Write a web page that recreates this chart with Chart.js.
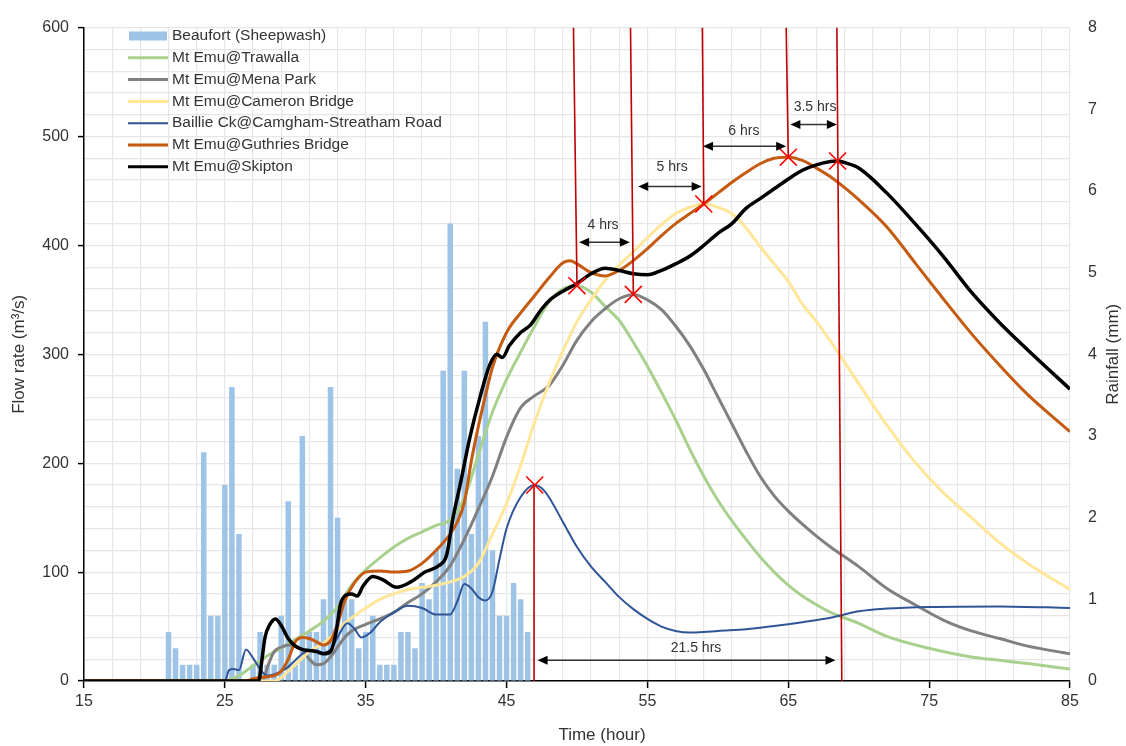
<!DOCTYPE html>
<html>
<head>
<meta charset="utf-8">
<title>Mt Emu flood hydrographs</title>
<script src="https://cdn.jsdelivr.net/npm/chart.js@4.4.1/dist/chart.umd.min.js"></script>
<style>
  html, body { margin: 0; padding: 0; background: #fff; }
  #wrap { width: 1126px; height: 746px; }
</style>
</head>
<body>
<div id="wrap"><canvas id="flowChart" width="1126" height="746"></canvas></div>
<script>
// Rainfall at Beaufort (Sheepwash), half-hourly totals (mm)
const rainHours = [21, 21.5, 22, 22.5, 23, 23.5, 24, 24.5, 25, 25.5, 26, 26.5, 27, 27.5, 28, 28.5, 29, 29.5,
  30, 30.5, 31, 31.5, 32, 32.5, 33, 33.5, 34, 34.5, 35, 35.5, 36, 36.5, 37, 37.5, 38, 38.5, 39, 39.5,
  40, 40.5, 41, 41.5, 42, 42.5, 43, 43.5, 44, 44.5, 45, 45.5, 46, 46.5];
const rainMm = [0.6, 0.4, 0.2, 0.2, 0.2, 2.8, 0.8, 0.8, 2.4, 3.6, 1.8, 0, 0.2, 0.6, 0.2, 0.2, 0.8, 2.2,
  0.2, 3.0, 0.6, 0.6, 1.0, 3.6, 2.0, 1.0, 1.0, 0.4, 0.6, 0.8, 0.2, 0.2, 0.2, 0.6, 0.6, 0.4, 1.2, 1.0,
  1.6, 3.8, 5.6, 2.6, 3.8, 1.8, 3.0, 4.4, 1.6, 0.8, 0.8, 1.2, 1.0, 0.6];

// Flow hydrographs, [hour, m3/s]
const trawalla = [[15,0],[25,0],[26,5],[27,14],[28,23],[29,30],[30,38],[31,46],[32,55],[33,68],[34,88],[35,102],
  [36,113],[37,123],[38,131],[39,137],[40,143],[41,148],[42,168],[43,208],[44,247],[45,277],[46,302],[47,326],
  [48,348],[49,360],[50,363],[51,357],[52,344],[53,331],[54,311],[55,289],[56,265],[57,240],[58,213],[59,188],
  [60,166],[61,147],[62,130],[63,114],[64,100],[65,88],[66,78],[67,70],[68,63],[70,53],[72,41],[75,30],
  [78,22],[80,19],[82,16],[85,11]];
const menaPark = [[15,0],[27.7,0],[28,12],[28.5,27],[29,31],[29.5,33],[30,32.5],[30.5,28],[31,20],[31.5,15],
  [32,16],[32.5,22],[33,31],[33.5,40],[34,46],[35,52],[36,57],[37,63],[38,72],[39,80],[40,91],[41,106],
  [42,130],[43,158],[44,188],[45,224],[46,251],[47,262],[48,271],[49,290],[50,313],[51,330],[52,342],[53,351],
  [54,355],[55,350],[56,341],[57,326],[58,308],[59,286],[60,261],[61,236],[62,211],[63,188],[64,170],[65,156],
  [66,144],[67,133],[68,123],[70,105],[72,85],[74,70],[76,56],[78,46],[80,39],[82,32],[85,25]];
const cameronBridge = [[15,0],[28.5,0],[29,3],[29.5,9],[30,15],[30.5,21],[31,27],[31.5,31],[32,35],[32.5,40],
  [33,47],[33.5,53],[34,58],[35,67],[36,75],[37,80],[38,84],[39,86],[40,88],[41,91],[42,96],[43,108],[44,135],
  [45,163],[46,198],[47,238],[48,273],[49,303],[50,330],[51,350],[52,368],[53,382],[54,394],[55,407],[56,419],
  [57,429],[58,435],[59,438],[60,435],[61,429],[62,416],[63,399],[64,383],[65,367],[66,346],[67,330],[68,312],
  [70,273],[72,235],[74,201],[76,173],[78,150],[80,127],[82,108],[85,84]];
const baillieCk = [[15,0],[25,0],[25.3,10],[25.6,11],[26,10],[26.5,29],[27,21],[27.5,11],[28,5],[28.5,6],[29,9],
  [29.5,13],[30,19],[30.5,25],[31,28],[31.5,28],[32,26],[32.5,29],[33,40],[33.7,53],[34.2,48],[34.7,40],
  [35.3,44],[36,54],[37,63],[38,69],[39,67],[40,61],[41,61],[41.5,73],[42,89],[42.5,85],[43,77],[43.5,74],
  [44,82],[44.5,112],[45,140],[46,169],[47,180],[47.5,177],[48,169],[49,146],[50,123],[51,105],[52,91],[53,77],
  [54,66],[55,57],[56,50],[57,46],[58,44.5],[59,45],[60,46],[62,47.5],[64,50.5],[66,54],[68,58],[70,64],
  [72,66.5],[75,68],[80,68.5],[85,67]];
const guthriesBridge = [[15,0],[26.5,0],[27,2],[28,4],[28.5,5],[29,9],[29.5,20],[30,36],[30.5,40],[31,39],
  [31.5,36],[32,33],[32.5,37],[33,52],[33.5,73],[34,86],[34.5,95],[35,100],[36,101],[37,100],[38,101],[39,108],
  [40,120],[41,135],[41.5,146],[42,164],[42.5,202],[43,234],[43.5,262],[44,288],[45,320],[46,338],[47,354],
  [48,370],[49,384],[49.5,386],[50,383],[51,375],[52,372],[53,377],[54,386],[55,397],[56,409],[57,420],[58,429],
  [59,438],[60,448],[61,458],[62,467],[63,475],[64,480],[65,481],[66,478],[67,471],[68,463],[69,453],[70,442],
  [72,417],[74,384],[76,351],[78,319],[80,290],[82,263],[85,229]];
const skipton = [[15,0],[27.4,0],[27.6,16],[27.85,40],[28.2,52],[28.6,57],[29,51],[29.5,39],[30,32],[30.5,29],
  [31,28],[31.5,27],[32,25],[32.5,27],[32.9,45],[33.2,70],[33.6,79],[34,80],[34.4,78],[34.8,87],[35.5,96],
  [36.2,93],[37.2,86],[38.2,91],[39.2,100],[40.2,106],[40.75,116],[41.2,150],[41.7,180],[42.4,224],[43.1,260],
  [43.8,290],[44.3,300],[44.7,297],[45.2,308],[46,320],[46.7,327],[47.4,340],[48,349],[49,358],[50,365],
  [51,374],[52,379],[53,377],[54,374],[55,373],[56,377],[57,383],[58,390],[59,400],[60,411],[61,420],[62,434],
  [63,443],[64,452],[65,461],[66,469],[67,474],[68,477],[68.5,477.5],[69,476],[70,471],[72,448],[74,420],
  [76,390],[78,357],[80,329],[82,304],[85,268]];

// Peak markers and the red guide lines through them
const peakHours = [47, 50, 54, 59, 65, 68.5];
const peakFlows = [180, 363, 355, 438, 481, 477.5];
const guideFrom = [[46.95, 0], [50, 363], [54, 355], [59, 438], [65, 481], [68.8, 0]];
const guideTo = [[46.95, 180], [49.75, 600], [53.8, 600], [58.9, 600], [64.85, 600], [68.45, 600]];

// Travel time arrows
const spanLabels = ['4 hrs', '5 hrs', '6 hrs', '3.5 hrs', '21.5 hrs'];
const spanStart = [50.15, 54.35, 58.95, 65.15, 47.2];
const spanEnd = [53.75, 58.85, 64.85, 68.45, 68.35];
const spanFlow = [403, 454, 491, 511, 19];
const spanTextHour = [51.85, 56.75, 61.85, 66.9, 58.45];
const spanTextFlow = [419, 472, 505, 527, 30];

const FONT = '"Liberation Sans", Arial, sans-serif';
const GRID = '#E6E6E6';
const TEXT = '#333333';

function toPoints(pairs) {
    return pairs.map(p => ({ x: p[0], y: p[1] }));
}

function flowLine(label, pairs, color, width, order) {
    return {
        type: 'line', label: label, data: toPoints(pairs), yAxisID: 'y',
        borderColor: color, backgroundColor: color, borderWidth: width,
        pointRadius: 0, cubicInterpolationMode: 'monotone', fill: false,
        order: order, inLegend: true
    };
}

// Tick marks only where a label is shown
function majorTick(c, step, base) {
    if (!c.tick) return 'rgba(0,0,0,0)';
    return (c.tick.value - base) % step === 0 ? '#000' : 'rgba(0,0,0,0)';
}

let datasets = [
    {
        type: 'bar', label: 'Beaufort (Sheepwash)',
        data: rainHours.map((h, i) => ({ x: h, y: rainMm[i] })),
        backgroundColor: '#9DC3E6', yAxisID: 'y1',
        barPercentage: 0.78, categoryPercentage: 1, order: 20, inLegend: true
    },
    flowLine('Mt Emu@Trawalla', trawalla, '#A9D18E', 3, 8),
    flowLine('Mt Emu@Mena Park', menaPark, '#808080', 3, 7),
    flowLine('Mt Emu@Cameron Bridge', cameronBridge, '#FFE699', 3, 6),
    flowLine('Baillie Ck@Camgham-Streatham Road', baillieCk, '#2F5597', 2, 5),
    flowLine('Mt Emu@Guthries Bridge', guthriesBridge, '#C55A11', 3, 4),
    flowLine('Mt Emu@Skipton', skipton, '#000000', 3.5, 3)
];

// Red guide lines
guideFrom.forEach((from, i) => {
    datasets.push({
        type: 'line', data: [{ x: from[0], y: from[1] }, { x: guideTo[i][0], y: guideTo[i][1] }],
        yAxisID: 'y', borderColor: '#C00000', borderWidth: 1.6, pointRadius: 0, tension: 0, order: 1
    });
});

// Red crosses on the peaks
datasets.push({
    type: 'line', data: peakHours.map((h, i) => ({ x: h, y: peakFlows[i] })), yAxisID: 'y',
    showLine: false, pointStyle: 'crossRot', pointRadius: 12, pointHoverRadius: 12,
    pointBorderColor: '#FF0000', pointBorderWidth: 1.6, order: 0
});

// Legend in the top left corner of the plot
const cornerLegend = {
    id: 'cornerLegend',
    afterDraw(chart) {
        const ctx = chart.ctx;
        const left = chart.chartArea.left + 44;
        ctx.save();
        ctx.font = '15.5px ' + FONT;
        ctx.textBaseline = 'middle';
        chart.data.datasets.filter(d => d.inLegend).forEach((d, i) => {
            const y = 36 + i * 21.8;
            if (d.type === 'bar') {
                ctx.fillStyle = d.backgroundColor;
                ctx.fillRect(left + 1, y - 4.5, 38, 9);
            } else {
                ctx.strokeStyle = d.borderColor;
                ctx.lineWidth = Math.min(d.borderWidth, 3);
                ctx.beginPath();
                ctx.moveTo(left, y);
                ctx.lineTo(left + 40, y);
                ctx.stroke();
            }
            ctx.fillStyle = TEXT;
            ctx.fillText(d.label, left + 44, y);
        });
        ctx.restore();
    }
};

function drawArrow(ctx, x1, x2, y) {
    const head = 10, half = 4.5;
    ctx.beginPath();
    ctx.moveTo(x1 + head - 1, y);
    ctx.lineTo(x2 - head + 1, y);
    ctx.stroke();
    ctx.beginPath();
    ctx.moveTo(x1, y);
    ctx.lineTo(x1 + head, y - half);
    ctx.lineTo(x1 + head, y + half);
    ctx.closePath();
    ctx.fill();
    ctx.beginPath();
    ctx.moveTo(x2, y);
    ctx.lineTo(x2 - head, y - half);
    ctx.lineTo(x2 - head, y + half);
    ctx.closePath();
    ctx.fill();
}

// Travel time arrows and their labels
const spanArrows = {
    id: 'spanArrows',
    afterDatasetsDraw(chart) {
        const ctx = chart.ctx;
        const xs = chart.scales.x, ys = chart.scales.y;
        ctx.save();
        ctx.strokeStyle = '#333333';
        ctx.fillStyle = '#000000';
        ctx.lineWidth = 1.5;
        spanLabels.forEach((txt, i) => {
            drawArrow(ctx, xs.getPixelForValue(spanStart[i]), xs.getPixelForValue(spanEnd[i]), ys.getPixelForValue(spanFlow[i]));
        });
        ctx.fillStyle = TEXT;
        ctx.font = '14px ' + FONT;
        ctx.textAlign = 'center';
        ctx.textBaseline = 'middle';
        spanLabels.forEach((txt, i) => {
            ctx.fillText(txt, xs.getPixelForValue(spanTextHour[i]), ys.getPixelForValue(spanTextFlow[i]));
        });
        ctx.restore();
    }
};

// Axis titles
const axisTitles = {
    id: 'axisTitles',
    afterDraw(chart) {
        const ctx = chart.ctx;
        const area = chart.chartArea;
        const midY = (area.top + area.bottom) / 2;
        ctx.save();
        ctx.fillStyle = TEXT;
        ctx.font = '17px ' + FONT;
        ctx.textAlign = 'center';
        ctx.textBaseline = 'middle';
        ctx.fillText('Time (hour)', 602, 735);
        [[19, 'Flow rate (m³/s)'], [1113, 'Rainfall (mm)']].forEach(t => {
            ctx.save();
            ctx.translate(t[0], midY);
            ctx.rotate(-Math.PI / 2);
            ctx.fillText(t[1], 0, 0);
            ctx.restore();
        });
        ctx.restore();
    }
};

const tickFont = { family: FONT, size: 16 };

let flowChart = new Chart(document.getElementById('flowChart'), {
    type: 'line',
    data: { datasets: datasets },
    options: {
        responsive: false,
        animation: false,
        devicePixelRatio: 1,
        events: [],
        layout: { padding: { top: 18, left: 0, right: 0, bottom: 0 } },
        plugins: { legend: { display: false }, tooltip: { enabled: false } },
        scales: {
            x: {
                type: 'linear', min: 15, max: 85, offset: false,
                ticks: {
                    stepSize: 2, autoSkip: false, maxRotation: 0, padding: 4, color: TEXT, font: tickFont,
                    callback: v => ((v - 15) % 10 === 0 ? v : '')
                },
                grid: {
                    offset: false, color: GRID, lineWidth: 1.2, tickLength: 7, tickWidth: 1.5,
                    tickColor: c => majorTick(c, 10, 15)
                },
                border: { color: '#000', width: 1.5 },
                afterFit: s => { s.height = 65; }
            },
            y: {
                position: 'left', min: 0, max: 600,
                ticks: {
                    stepSize: 20, autoSkip: false, padding: 9, color: TEXT, font: tickFont,
                    callback: v => (v % 100 === 0 ? v : '')
                },
                grid: {
                    color: GRID, lineWidth: 1.2, tickLength: 6, tickWidth: 1.5,
                    tickColor: c => majorTick(c, 100, 0)
                },
                border: { color: '#000', width: 1.5 },
                afterFit: s => { s.width = 84; }
            },
            y1: {
                position: 'right', min: 0, max: 8,
                ticks: { stepSize: 1, padding: 18, color: TEXT, font: tickFont },
                grid: { drawOnChartArea: false, drawTicks: false },
                border: { display: false },
                afterFit: s => { s.width = 56; }
            }
        }
    },
    plugins: [spanArrows, cornerLegend, axisTitles]
});
</script>
</body>
</html>
